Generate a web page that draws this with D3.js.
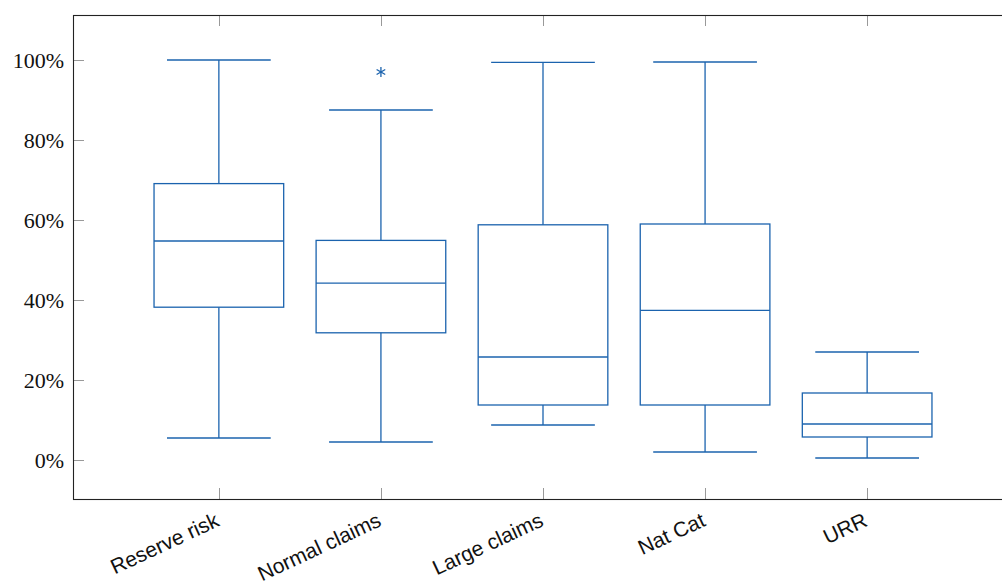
<!DOCTYPE html>
<html>
<head>
<meta charset="utf-8">
<script src="https://cdn.jsdelivr.net/npm/d3@7"></script>
<style>
  html, body { margin: 0; padding: 0; background: #fff; }
  svg { display: block; }
</style>
</head>
<body>
<svg id="chart" width="1002" height="581"></svg>
<script>
// ---- data (percent) ----
const categories = ["Reserve risk", "Normal claims", "Large claims", "Nat Cat", "URR"];
const lowerWhisker = [5.5, 4.5, 8.75, 2.0, 0.5];
const lowerQuartile = [38.2, 31.8, 13.75, 13.75, 5.75];
const median = [54.75, 44.2, 25.75, 37.4, 9.0];
const upperQuartile = [69.1, 54.9, 58.8, 59.0, 16.75];
const upperWhisker = [100.0, 87.5, 99.4, 99.5, 27.0];
const outliers = [[1, 97.0]]; // [category index, value]
const yTicks = [0, 20, 40, 60, 80, 100];

(function () {
const svg = d3.select("#chart");
const mLeft = 73, mRight = 1013, mTop = 15, mBottom = 499;
const color = "#1b63ae";

const x = d3.scaleLinear().domain([-0.9, categories.length - 0.1]).range([mLeft, mRight]);
const y = d3.scaleLinear().domain([-9.75, 111.25]).range([mBottom, mTop]);
const step = x(1) - x(0);
const boxW = step * 0.8, capW = boxW * 0.8;

// ticks (inward, gray)
const tickLen = 11;
const tg = svg.append("g").attr("stroke", "#999").attr("stroke-width", 1);
yTicks.forEach(t => {
  const yy = Math.round(y(t)) + 0.5;
  tg.append("line").attr("x1", mLeft).attr("x2", mLeft + tickLen).attr("y1", yy).attr("y2", yy);
  tg.append("line").attr("x1", mRight - tickLen).attr("x2", mRight).attr("y1", yy).attr("y2", yy);
});
categories.forEach((c, i) => {
  const xx = Math.round(x(i)) + 0.5;
  tg.append("line").attr("x1", xx).attr("x2", xx).attr("y1", mTop).attr("y2", mTop + tickLen);
  tg.append("line").attr("x1", xx).attr("x2", xx).attr("y1", mBottom - tickLen).attr("y2", mBottom);
});

// frame
svg.append("rect").attr("x", mLeft + 0.5).attr("y", mTop + 0.5)
  .attr("width", mRight - mLeft).attr("height", mBottom - mTop)
  .attr("fill", "none").attr("stroke", "#222").attr("stroke-width", 1.1);

// y labels
svg.append("g").selectAll("text").data(yTicks).join("text")
  .attr("x", mLeft - 9).attr("y", d => y(d)).attr("dy", "0.35em")
  .attr("text-anchor", "end")
  .attr("font-family", "'Liberation Serif', 'DejaVu Serif', serif")
  .attr("font-size", 22).attr("fill", "#111")
  .text(d => d + "%");

// x labels
svg.append("g").selectAll("text").data(categories).join("text")
  .attr("transform", (d, i) => `translate(${x(i) - 5},${mBottom + 12}) rotate(-25)`)
  .attr("text-anchor", "end").attr("dy", "0.75em")
  .attr("font-family", "'Liberation Sans', Arial, sans-serif")
  .attr("font-size", 21).attr("fill", "#111")
  .text(d => d);

// boxes
const g = svg.append("g").attr("stroke", color).attr("stroke-width", 1.3).attr("fill", "none");
categories.forEach((c, i) => {
  const cx = x(i);
  g.append("rect").attr("x", cx - boxW / 2).attr("y", y(upperQuartile[i]))
    .attr("width", boxW).attr("height", y(lowerQuartile[i]) - y(upperQuartile[i]));
  g.append("line").attr("x1", cx - boxW / 2).attr("x2", cx + boxW / 2)
    .attr("y1", y(median[i])).attr("y2", y(median[i]));
  g.append("line").attr("x1", cx).attr("x2", cx).attr("y1", y(upperQuartile[i])).attr("y2", y(upperWhisker[i]));
  g.append("line").attr("x1", cx).attr("x2", cx).attr("y1", y(lowerQuartile[i])).attr("y2", y(lowerWhisker[i]));
  g.append("line").attr("x1", cx - capW / 2).attr("x2", cx + capW / 2)
    .attr("y1", y(upperWhisker[i])).attr("y2", y(upperWhisker[i]));
  g.append("line").attr("x1", cx - capW / 2).attr("x2", cx + capW / 2)
    .attr("y1", y(lowerWhisker[i])).attr("y2", y(lowerWhisker[i]));
});

// outliers as asterisks
const r = 5;
outliers.forEach(([i, v]) => {
  const cx = x(i), cy = y(v);
  [90, 30, -30].forEach(a => {
    const rad = a * Math.PI / 180;
    g.append("line").attr("x1", cx - r * Math.cos(rad)).attr("y1", cy - r * Math.sin(rad))
      .attr("x2", cx + r * Math.cos(rad)).attr("y2", cy + r * Math.sin(rad));
  });
});
})();
</script>
</body>
</html>
